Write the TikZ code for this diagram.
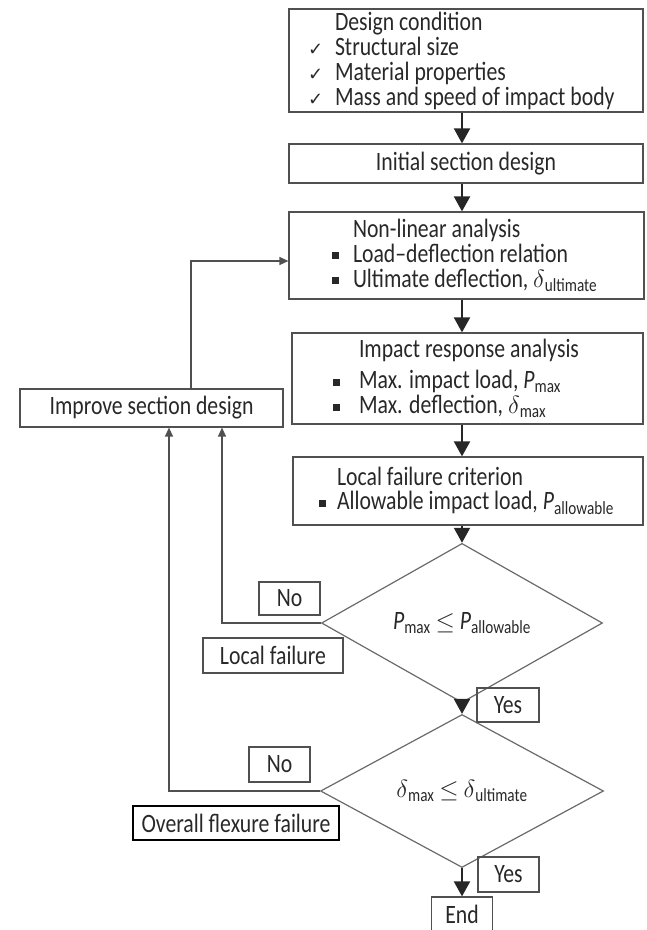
\documentclass[tikz,border=0pt]{standalone}
\usepackage{amsmath,amssymb}
\usepackage{fontspec}
\setmainfont{Carlito}[FakeStretch=0.82]
\newfontfamily\symfont{DejaVu Sans}
\usepackage{xcolor}
\usetikzlibrary{shapes.geometric,arrows.meta}

\definecolor{linegray}{RGB}{80,80,80}
\definecolor{textgray}{RGB}{40,40,40}
\newcommand{\sqb}{\rule[3pt]{7pt}{7pt}}
\newcommand{\chk}{{\symfont\fontsize{18}{18}\selectfont ✓}}
\newcommand{\Pv}[1]{\textit{P}\textsubscript{#1}}
\newcommand{\dv}[1]{{\fontsize{30}{30}\selectfont$\delta$}\textsubscript{#1}}
\newcommand{\lines}[3]{\makebox[#1][l]{\parbox[c]{400pt}{\fontsize{26.5}{#2}\selectfont\lineskiplimit=-40pt #3}}}

\begin{document}
\begin{tikzpicture}[x=1pt,y=-1pt,font=\fontsize{26.5}{23}\selectfont,
    box/.style={draw=linegray,line width=1.2pt,text=textgray,align=center,inner sep=0pt},
    test/.style={diamond,draw=linegray!85,line width=1.2pt,inner sep=0pt,text=textgray},
    flow/.style={-{Triangle[length=15pt,width=16pt]},line width=2pt,draw=black!85},
    back/.style={-{Triangle[length=9pt,width=8pt]},line width=1.3pt,draw=linegray}]
    \useasboundingbox (0,0) rectangle (646,930);

    % Main column of steps
    \node[box,minimum width=354,minimum height=103,inner xsep=19pt] (cond) at (466,60.5)
        {\lines{316pt}{25pt}{\hspace*{27pt}Design condition\\
         \makebox[27pt][l]{\chk}Structural size\\
         \makebox[27pt][l]{\chk}Material properties\\
         \makebox[27pt][l]{\chk}Mass and speed of impact body}};
    \node[box,minimum width=354,minimum height=39] (init) at (466,163.5) {Initial section design};
    \node[box,minimum width=355,minimum height=87,inner xsep=43pt] (nonlin) at (466.5,255.5)
        {\lines{269pt}{25pt}{\hspace*{21pt}Non-linear analysis\\
         \makebox[21pt][l]{\sqb}Load--deflection relation\\
         \makebox[21pt][l]{\sqb}Ultimate deflection, \dv{ultimate}}};
    \node[box,minimum width=351,minimum height=91,inner xsep=41pt] (impact) at (467.5,378.5)
        {\lines{269pt}{25pt}{\hspace*{26pt}Impact response analysis\\[6pt]
         \makebox[26pt][l]{\sqb}Max. impact load, \Pv{max}\\
         \makebox[26pt][l]{\sqb}Max. deflection, \dv{max}}};
    \node[box,minimum width=350,minimum height=68,inner xsep=26pt] (local) at (468,491)
        {\lines{298pt}{24pt}{\hspace*{18pt}Local failure criterion\\
         \makebox[18pt][l]{\sqb}Allowable impact load, \Pv{allowable}}};

    % Checks
    \node[test,minimum width=281,minimum height=134] (chk1) at (462,623) {\Pv{max} $\leq$ \Pv{allowable}};
    \node[test,minimum width=283,minimum height=134] (chk2) at (462,791) {\dv{max} $\leq$ \dv{ultimate}};

    % Side boxes
    \node[box,minimum width=263,minimum height=38] (improve) at (151.5,408) {Improve section design};
    \node[box,minimum width=61,minimum height=33] (no1) at (289.5,598.5) {No};
    \node[box,minimum width=140,minimum height=35] (lfail) at (273,655.5) {Local failure};
    \node[box,minimum width=62,minimum height=34] (yes1) at (508,705) {Yes};
    \node[box,minimum width=61,minimum height=35] (no2) at (279.5,764.5) {No};
    \node[box,minimum width=206,minimum height=34,draw=black] (ofail) at (236,823) {Overall flexure failure};
    \node[box,minimum width=61,minimum height=35] (yes2) at (508.5,874.5) {Yes};
    \node[box,minimum width=61,minimum height=35] (fin) at (462,914.5) {End};

    % Arrows down the column
    \foreach \a/\b in {cond/init,init/nonlin,nonlin/impact,impact/local}
        \draw[flow] (\a.south -| chk1) -- (\b.north -| chk1);
    \draw[flow] (local.south -| chk1) -- (chk1.north);
    \draw[flow] (chk1.south) -- (chk2.north);
    \draw[flow] (chk2.south) -- (fin.north);

    % Loops back
    \draw[back] (chk1.west) -| ([xshift=70.5]improve.south);
    \draw[back] (chk2.west) -| ([xshift=17.5]improve.south);
    \draw[back] ([xshift=39.5]improve.north) |- ([yshift=-5.5]nonlin.west);
\end{tikzpicture}
\end{document}
